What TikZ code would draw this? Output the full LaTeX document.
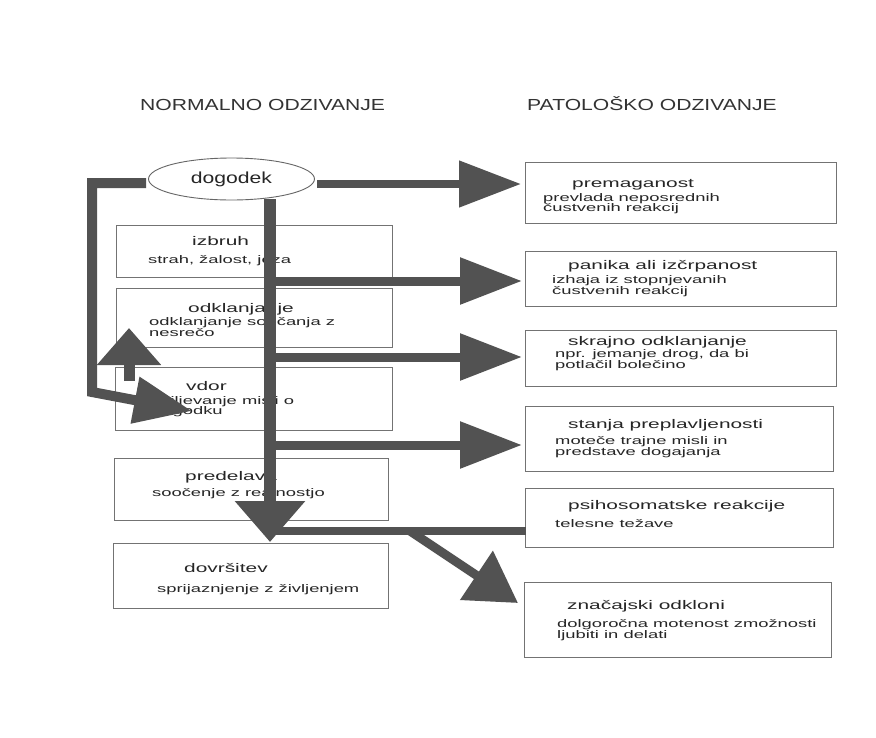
\documentclass[tikz,border=0pt]{standalone}
\usepackage{fontspec}
\setmainfont{Liberation Sans}[FakeStretch=1.32]
\newfontfamily\boxf{Liberation Sans}[FakeStretch=1.67]
\usetikzlibrary{arrows.meta,shapes.geometric}
\begin{document}
\begin{tikzpicture}[x=1pt,y=-1pt,
  box/.style={draw=black!55,line width=0.9pt,inner sep=0pt,anchor=north west},
  ttl/.style={font=\boxf\fontsize{12.5}{14}\selectfont,anchor=base west,inner sep=0pt,text=black!85},
  sub/.style={font=\boxf\fontsize{11}{12}\selectfont,anchor=base west,inner sep=0pt,text=black!85},
  hdr/.style={font=\fontsize{16}{18}\selectfont,anchor=base west,inner sep=0pt,text=black!80},
  bar/.style={draw=black!68,line width=#1,line cap=butt,line join=miter},
  bar/.default=9pt,
  hd/.style 2 args={-{Triangle[length=#1,width=#2]}},
]
\fill[white] (0,0) rectangle (876,737);
\useasboundingbox (0,0) rectangle (876,737);

% headings
\node[hdr] (h1) at (140,110) {NORMALNO ODZIVANJE};
\node[hdr] (h2) at (527,110) {PATOLOŠKO ODZIVANJE};

% left boxes
\node[box,minimum width=276pt,minimum height=52pt] (izb) at (116,225) {};
\node[box,minimum width=276pt,minimum height=59pt] (odk) at (116,288) {};
\node[box,minimum width=277pt,minimum height=63pt] (vdor) at (115,367) {};
\node[box,minimum width=274pt,minimum height=62pt] (pred) at (114,458) {};
\node[box,minimum width=275pt,minimum height=65pt] (dovr) at (113,543) {};

% right boxes
\node[box,minimum width=311pt,minimum height=61pt] (prem) at (525,162) {};
\node[box,minimum width=311pt,minimum height=55pt] (pan) at (525,251) {};
\node[box,minimum width=311pt,minimum height=56pt] (skr) at (525,330) {};
\node[box,minimum width=308pt,minimum height=65pt] (stan) at (525,406) {};
\node[box,minimum width=308pt,minimum height=59pt] (psih) at (525,488) {};
\node[box,minimum width=307pt,minimum height=75pt] (znac) at (524,582) {};

% left texts
\node[ttl] (t1) at (192,245) {izbruh};
\node[sub] (s1) at (148,263) {strah, žalost, jeza};
\node[ttl] (t2) at (188,312) {odklanjanje};
\node[sub] (s2a) at (149,325) {odklanjanje soočanja z};
\node[sub] (s2b) at (149,336) {nesrečo};
\node[ttl] (t3) at (186,390) {vdor};
\node[sub] (s3a) at (152,404) {vsiljevanje misli o};
\node[sub] (s3b) at (152,414) {dogodku};
\node[ttl] (t4) at (185,480) {predelava};
\node[sub] (s4) at (152,496) {soočenje z realnostjo};
\node[ttl] (t5) at (184,572) {dovršitev};
\node[sub] (s5) at (157,592) {sprijaznjenje z življenjem};

% right texts
\node[ttl] (r1) at (572,187) {premaganost};
\node[sub] (r1a) at (543,201) {prevlada neposrednih};
\node[sub] (r1b) at (543,211.5) {čustvenih reakcij};
\node[ttl] (r2) at (568,269) {panika ali izčrpanost};
\node[sub] (r2a) at (552,283) {izhaja iz stopnjevanih};
\node[sub] (r2b) at (552,294) {čustvenih reakcij};
\node[ttl] (r3) at (568,345) {skrajno odklanjanje};
\node[sub] (r3a) at (555,357) {npr. jemanje drog, da bi};
\node[sub] (r3b) at (555,368) {potlačil bolečino};
\node[ttl] (r4) at (568,428) {stanja preplavljenosti};
\node[sub] (r4a) at (555,444) {moteče trajne misli in};
\node[sub] (r4b) at (555,455) {predstave dogajanja};
\node[ttl] (r5) at (568,509) {psihosomatske reakcije};
\node[sub] (r5a) at (555,527) {telesne težave};
\node[ttl] (r6) at (567,609) {značajski odkloni};
\node[sub] (r6a) at (557,627) {dolgoročna motenost zmožnosti};
\node[sub] (r6b) at (557,638) {ljubiti in delati};

% event ellipse
\node[ellipse,draw=black!60,line width=0.9pt,fill=white,minimum width=166pt,minimum height=42pt,inner sep=0pt,
      font=\fontsize{16}{18}\selectfont,text=black!85] (ev) at (231.5,179) {dogodek};

% arrow coordinates
\coordinate (a1s) at (317,184);
\coordinate (a1e) at (521,184);
\coordinate (ms) at (270,199);
\coordinate (me) at (270,542);
\coordinate (b1s) at (270,281);
\coordinate (b1e) at (522,281);
\coordinate (b2s) at (270,357);
\coordinate (b2e) at (522,357);
\coordinate (b3s) at (270,445);
\coordinate (b3e) at (522,445);
\coordinate (b4s) at (268,531);
\coordinate (b4e) at (526,531);
\coordinate (ds) at (410,531);
\coordinate (de) at (518,603);
\coordinate (l1) at (146,183);
\coordinate (l2) at (92,183);
\coordinate (l3) at (92,392);
\coordinate (l4) at (192,411);
\coordinate (us) at (129,381);
\coordinate (ue) at (129,328);

% arrows
\draw[bar=8pt,hd={62pt}{45pt}] (a1s) -- (a1e);
\draw[bar=9pt,hd={62pt}{45pt}] (b1s) -- (b1e);
\draw[bar=9pt,hd={62pt}{45pt}] (b2s) -- (b2e);
\draw[bar=9pt,hd={62pt}{45pt}] (b3s) -- (b3e);
\draw[bar=8pt] (b4s) -- (b4e);
\draw[bar=9pt,hd={50pt}{57pt}] (ds) -- (de);
\draw[bar=12pt,hd={41pt}{68pt}] (ms) -- (me);
\draw[bar=10pt,hd={58pt}{45pt}] (l1) -- (l2) -- (l3) -- (l4);
\draw[bar=11pt,hd={37pt}{62pt}] (us) -- (ue);
\end{tikzpicture}
\end{document}
